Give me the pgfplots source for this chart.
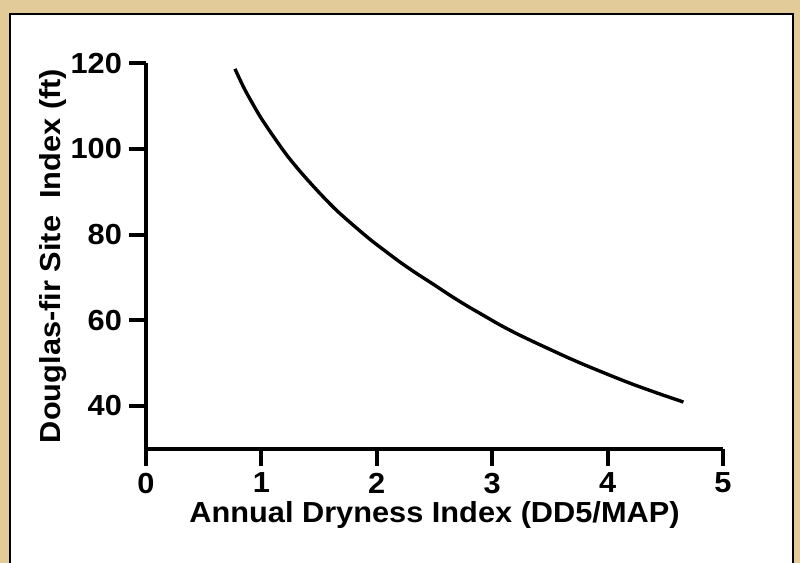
\documentclass[border=0pt]{standalone}
\usepackage{pgfplots}
\pgfplotsset{compat=1.18}
\usepackage{fontspec}
\setmainfont{Liberation Sans}[FakeStretch=1.06]
\definecolor{parch}{RGB}{226,203,152}
\begin{document}
\begin{tikzpicture}[x=1pt,y=1pt]
\useasboundingbox (0,0) rectangle (400,281.5);
\fill[parch] (0,0) rectangle (400,281.5);
\filldraw[fill=white, draw=black, line width=1pt] (5,-5) rectangle (396.5,274.5);
\begin{axis}[
  scale only axis, width=288.5pt, height=192.7pt,
  at={(73pt,57.15pt)}, anchor=south west,
  xmin=0, xmax=5, ymin=30, ymax=120,
  axis lines=left,
  axis line style={line width=2pt, -},
  xtick={0,1,2,3,4,5}, ytick={40,60,80,100,120},
  tick align=outside,
  major tick length=0.3cm,
  xtick style={draw=black, line width=2pt},
  ytick style={draw=black, line width=2pt},
  ticklabel style={font=\fontsize{14.5}{16}\selectfont\bfseries},
  /pgf/number format/assume math mode=true,
  xlabel={Annual Dryness Index (DD5/MAP)},
  ylabel={Douglas-fir Site\ \ Index (ft)},
  label style={font=\fontsize{14.5}{16}\selectfont\bfseries},
  xlabel style={yshift=3pt},
  ylabel style={yshift=-5pt},
]
\addplot[black, line width=1.7pt, smooth] table {
x y
0.771 118.7
0.85 114.2
0.93 110.3
1.00 107.1
1.10 103.1
1.219 98.6
1.35 94.3
1.508 89.6
1.65 85.7
1.796 82.2
1.95 78.7
2.086 75.9
2.20 73.6
2.346 70.9
2.49 68.4
2.63 65.9
2.779 63.4
2.92 61.2
3.068 58.9
3.21 56.9
3.356 55.0
3.50 53.2
3.645 51.4
3.79 49.7
3.934 48.1
4.08 46.5
4.223 45.0
4.44 42.9
4.657 40.9
};
\end{axis}
\end{tikzpicture}
\end{document}
